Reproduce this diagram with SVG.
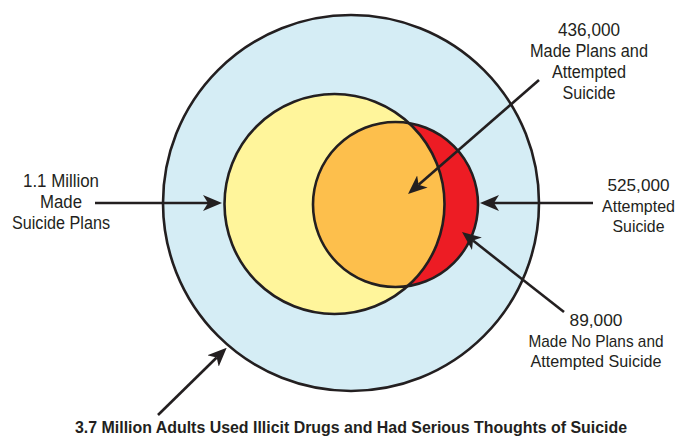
<svg xmlns="http://www.w3.org/2000/svg" width="678" height="436" viewBox="0 0 678 436">
<style>
.c{stroke:#231f20;stroke-width:2.6}
.t{font-family:"Liberation Sans",Arial,sans-serif;font-size:17.5px;fill:#231f20;text-anchor:middle}
.s{font-size:17px}
.b{font-family:"Liberation Sans",Arial,sans-serif;font-size:17px;font-weight:bold;fill:#231f20;text-anchor:middle}
.a{fill:none;stroke:#231f20;stroke-width:2.6;marker-end:url(#ah)}
</style>
<defs>
<marker id="ah" markerUnits="userSpaceOnUse" viewBox="0 0 19 16" refX="5" refY="8" markerWidth="19" markerHeight="16" orient="auto">
<path d="M19,8 L0,0 L5,8 L0,16 Z" fill="#231f20"/>
</marker>
<clipPath id="cy"><circle cx="334.5" cy="204" r="110"/></clipPath>
</defs>
<rect width="678" height="436" fill="#ffffff"/>
<g id="outer"><circle cx="351" cy="203" r="188" fill="#d5edf5" class="c"/></g>
<g id="plans"><circle cx="334.5" cy="204" r="110" fill="#fff59b"/></g>
<g id="attempted"><circle cx="395.5" cy="204.5" r="82.5" fill="#ed1c24"/></g>
<g id="both"><circle cx="395.5" cy="204.5" r="82.5" fill="#fdbf4c" clip-path="url(#cy)"/></g>
<g id="outlines" fill="none">
<circle cx="334.5" cy="204" r="110" class="c"/>
<circle cx="395.5" cy="204.5" r="82.5" class="c"/>
</g>
<g id="connectors">
<line class="a" x1="95" y1="203" x2="208" y2="203"/>
<line class="a" x1="593" y1="203" x2="494" y2="203"/>
<line class="a" x1="539" y1="80" x2="418.6" y2="184.8"/>
<line class="a" x1="564" y1="312" x2="473" y2="240.6"/>
<line class="a" x1="158" y1="415" x2="216.7" y2="357.5"/>
</g>
<g id="label-plans">
<text class="t" x="61" y="187" textLength="76" lengthAdjust="spacingAndGlyphs">1.1 Million</text>
<text class="t" x="61" y="208" textLength="42" lengthAdjust="spacingAndGlyphs">Made</text>
<text class="t" x="61" y="229" textLength="98" lengthAdjust="spacingAndGlyphs">Suicide Plans</text>
</g>
<g id="label-both">
<text class="t" x="589" y="36" textLength="62" lengthAdjust="spacingAndGlyphs">436,000</text>
<text class="t" x="589" y="57" textLength="118" lengthAdjust="spacingAndGlyphs">Made Plans and</text>
<text class="t" x="589" y="78" textLength="74" lengthAdjust="spacingAndGlyphs">Attempted</text>
<text class="t" x="589" y="99" textLength="53" lengthAdjust="spacingAndGlyphs">Suicide</text>
</g>
<g id="label-attempted">
<text class="t s" x="638.5" y="191" textLength="62" lengthAdjust="spacingAndGlyphs">525,000</text>
<text class="t s" x="638.5" y="212" textLength="73" lengthAdjust="spacingAndGlyphs">Attempted</text>
<text class="t s" x="638.5" y="232" textLength="52" lengthAdjust="spacingAndGlyphs">Suicide</text>
</g>
<g id="label-noplans">
<text class="t s" x="596" y="326" textLength="53" lengthAdjust="spacingAndGlyphs">89,000</text>
<text class="t s" x="596" y="347" textLength="135" lengthAdjust="spacingAndGlyphs">Made No Plans and</text>
<text class="t s" x="596" y="367" textLength="131" lengthAdjust="spacingAndGlyphs">Attempted Suicide</text>
</g>
<g id="label-outer">
<text class="b" x="351" y="433" textLength="552" lengthAdjust="spacingAndGlyphs">3.7 Million Adults Used Illicit Drugs and Had Serious Thoughts of Suicide</text>
</g>
</svg>
